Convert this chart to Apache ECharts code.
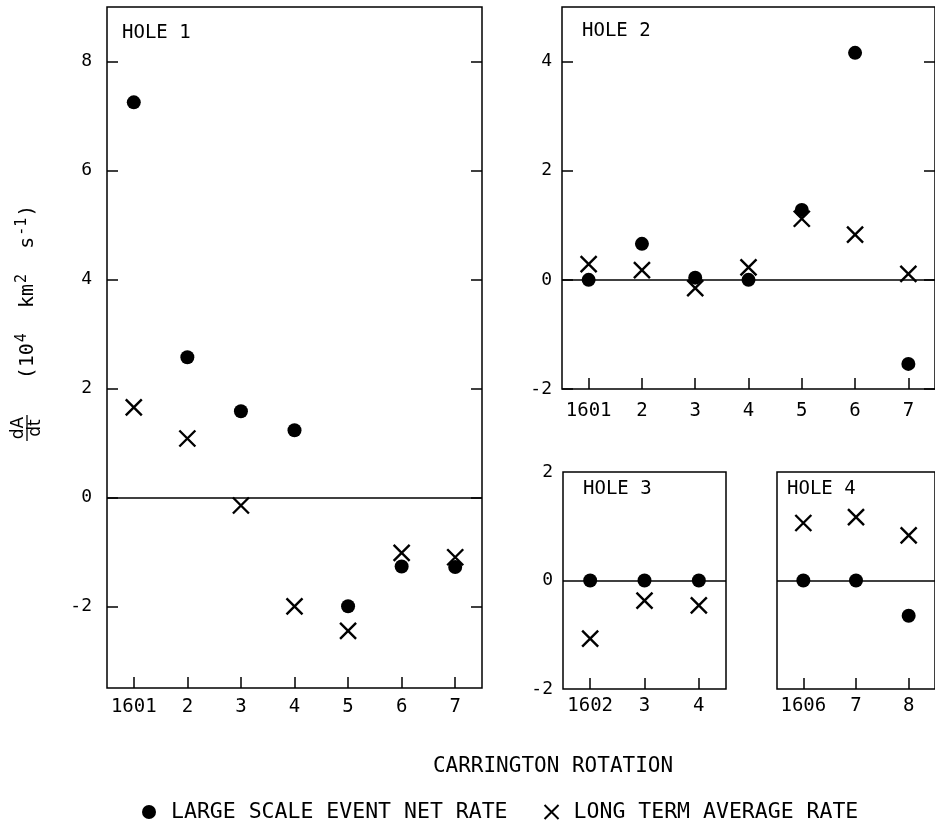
<!DOCTYPE html>
<html>
<head>
<meta charset="utf-8">
<script src="https://cdn.jsdelivr.net/npm/echarts@6/dist/echarts.min.js"></script>
<style>
html,body{margin:0;padding:0;background:#fff;}
#chart{width:935px;height:828px;}
</style>
</head>
<body>
<div id="chart"></div>
<script>
// ---- data ----
const hole1Rotations = [1601, 1602, 1603, 1604, 1605, 1606, 1607];
const hole1Event   = [7.25, 2.57, 1.58, 1.23, -2.0, -1.27, -1.28];
const hole1Average = [1.65, 1.08, -0.15, -2.0, -2.45, -1.02, -1.10];

const hole2Rotations = [1601, 1602, 1603, 1604, 1605, 1606, 1607];
const hole2Event   = [0.0, 0.66, 0.04, 0.0, 1.28, 4.16, -1.54];
const hole2Average = [0.29, 0.18, -0.15, 0.23, 1.12, 0.83, 0.11];

const hole3Rotations = [1602, 1603, 1604];
const hole3Event   = [0, 0, 0];
const hole3Average = [-1.07, -0.37, -0.46];

const hole4Rotations = [1606, 1607, 1608];
const hole4Event   = [0, 0, -0.65];
const hole4Average = [1.06, 1.17, 0.83];

const hole1YTicks = [-2, 0, 2, 4, 6, 8];
const hole2YTicks = [-2, 0, 2, 4];
const hole34YTicks = [-2, 0, 2];

const panelTitles = ['HOLE 1', 'HOLE 2', 'HOLE 3', 'HOLE 4'];
const eventName = 'LARGE SCALE EVENT NET RATE';
const averageName = 'LONG TERM AVERAGE RATE';
const xAxisTitle = 'CARRINGTON ROTATION';

// ---- styling ----
const MONO = '"DejaVu Sans Mono", monospace';
const SANS = '"DejaVu Sans", sans-serif';
const CROSS = 'path://M0,0L10,10M0,10L10,0';

function xAxisFor(grid, cats, margin) {
  return {
    type: 'category', gridIndex: grid, data: cats.map(String), boundaryGap: true,
    axisLine: {show: false, onZero: false},
    axisTick: {show: true, inside: true, alignWithLabel: true, interval: 0, length: 11, lineStyle: {color: '#000', width: 1.5}},
    axisLabel: {color: '#000', fontFamily: MONO, fontSize: 19, margin: margin, interval: 0,
      formatter: (v, i) => i === 0 ? v : String(Number(v) % 10)},
    splitLine: {show: false}
  };
}
function yAxisFor(grid, min, max, ticks, opts) {
  return Object.assign({
    type: 'value', gridIndex: grid, min: min, max: max,
    axisLine: {show: false},
    axisTick: {show: true, inside: true, length: 11, customValues: ticks, lineStyle: {color: '#000', width: 1.5}},
    axisLabel: {show: true, color: '#000', fontFamily: MONO, fontSize: 18, margin: 12, customValues: ticks},
    splitLine: {show: false}
  }, opts || {});
}
function seriesFor(idx, ev, av) {
  return [
    {
      name: eventName, type: 'scatter', xAxisIndex: idx[0], yAxisIndex: idx[1],
      symbol: 'circle', symbolSize: 14, itemStyle: {color: '#000', opacity: 1},
      data: ev, z: 3,
      markLine: {silent: true, symbol: 'none', label: {show: false},
        lineStyle: {color: '#000', width: 1.5, type: 'solid', opacity: 1}, data: [{yAxis: 0}], animation: false}
    },
    {
      name: averageName, type: 'scatter', xAxisIndex: idx[0], yAxisIndex: idx[1],
      symbol: CROSS, symbolSize: 16, itemStyle: {color: '#000', borderColor: '#000', borderWidth: 2.4, opacity: 1},
      data: av, z: 4
    }
  ];
}

const gridStyle = {show: true, borderColor: '#000', borderWidth: 1.5, backgroundColor: 'transparent', containLabel: false};

const option = {
  animation: false,
  backgroundColor: '#fff',
  grid: [
    Object.assign({left: 107, top: 7, width: 375, height: 681}, gridStyle),
    Object.assign({left: 562, top: 7, width: 374, height: 382}, gridStyle),
    Object.assign({left: 563, top: 472, width: 163, height: 217}, gridStyle),
    Object.assign({left: 777, top: 472, width: 163, height: 217}, gridStyle)
  ],
  xAxis: [
    xAxisFor(0, hole1Rotations, 10),
    xAxisFor(1, hole2Rotations, 13),
    xAxisFor(2, hole3Rotations, 8),
    xAxisFor(3, hole4Rotations, 8)
  ],
  yAxis: [
    yAxisFor(0, -3.5, 9, hole1YTicks, {axisLabel: {show: true, color: '#000', fontFamily: MONO, fontSize: 18, margin: 15, customValues: hole1YTicks}}),
    yAxisFor(0, -3.5, 9, hole1YTicks, {position: 'right', axisLabel: {show: false}}),
    yAxisFor(1, -2, 5, hole2YTicks, {axisLabel: {show: true, color: '#000', fontFamily: MONO, fontSize: 18, margin: 10, customValues: hole2YTicks}}),
    yAxisFor(1, -2, 5, hole2YTicks, {position: 'right', axisLabel: {show: false}}),
    yAxisFor(2, -2, 2, hole34YTicks, {axisTick: {show: false}, axisLabel: {show: true, color: '#000', fontFamily: MONO, fontSize: 18, margin: 10, customValues: hole34YTicks}}),
    yAxisFor(3, -2, 2, hole34YTicks, {axisTick: {show: false}, axisLabel: {show: false}})
  ],
  series: [].concat(
    seriesFor([0, 0], hole1Event, hole1Average),
    seriesFor([1, 2], hole2Event, hole2Average),
    seriesFor([2, 4], hole3Event, hole3Average),
    seriesFor([3, 5], hole4Event, hole4Average)
  ),
  legend: {
    data: [eventName, averageName],
    left: 137, top: 796,
    itemWidth: 14, itemHeight: 14, itemGap: 36,
    selectedMode: false,
    textStyle: {color: '#000', fontFamily: MONO, fontSize: 21.5, padding: [0, 0, 0, 10]}
  },
  graphic: [
    {type: 'text', left: 122, top: 24, style: {text: panelTitles[0], font: '19px ' + MONO, fill: '#000'}},
    {type: 'text', left: 582, top: 22, style: {text: panelTitles[1], font: '19px ' + MONO, fill: '#000'}},
    {type: 'text', left: 583, top: 480, style: {text: panelTitles[2], font: '19px ' + MONO, fill: '#000'}},
    {type: 'text', left: 787, top: 480, style: {text: panelTitles[3], font: '19px ' + MONO, fill: '#000'}},
    {type: 'text', x: 553, y: 767, style: {text: xAxisTitle, font: '21px ' + MONO, fill: '#000', align: 'center', verticalAlign: 'middle'}},
    {type: 'group', x: 27, y: 428, rotation: Math.PI / 2, children: [
      {type: 'text', x: 0, y: -8, style: {text: 'dA', font: '17px ' + SANS, fill: '#000', align: 'center', verticalAlign: 'middle'}},
      {type: 'line', shape: {x1: -13, y1: 0, x2: 13, y2: 0}, style: {stroke: '#000', lineWidth: 1.3}},
      {type: 'text', x: 0, y: 9, style: {text: 'dt', font: '17px ' + SANS, fill: '#000', align: 'center', verticalAlign: 'middle'}}
    ]},
    {type: 'text', x: 28, y: 292, rotation: Math.PI / 2, style: {
      text: '{m|(10}{s|4}{m|  km}{s|2}{m|  s}{s|-1}{m|)}',
      align: 'center', verticalAlign: 'middle',
      rich: {
        m: {fontFamily: MONO, fontSize: 20, fill: '#000', color: '#000'},
        s: {fontFamily: MONO, fontSize: 15, fill: '#000', color: '#000', padding: [0, 1, 12, 1]}
      }
    }}
  ]
};

const chart = echarts.init(document.getElementById('chart'), null, {renderer: 'canvas'});
chart.setOption(option);
</script>
</body>
</html>
